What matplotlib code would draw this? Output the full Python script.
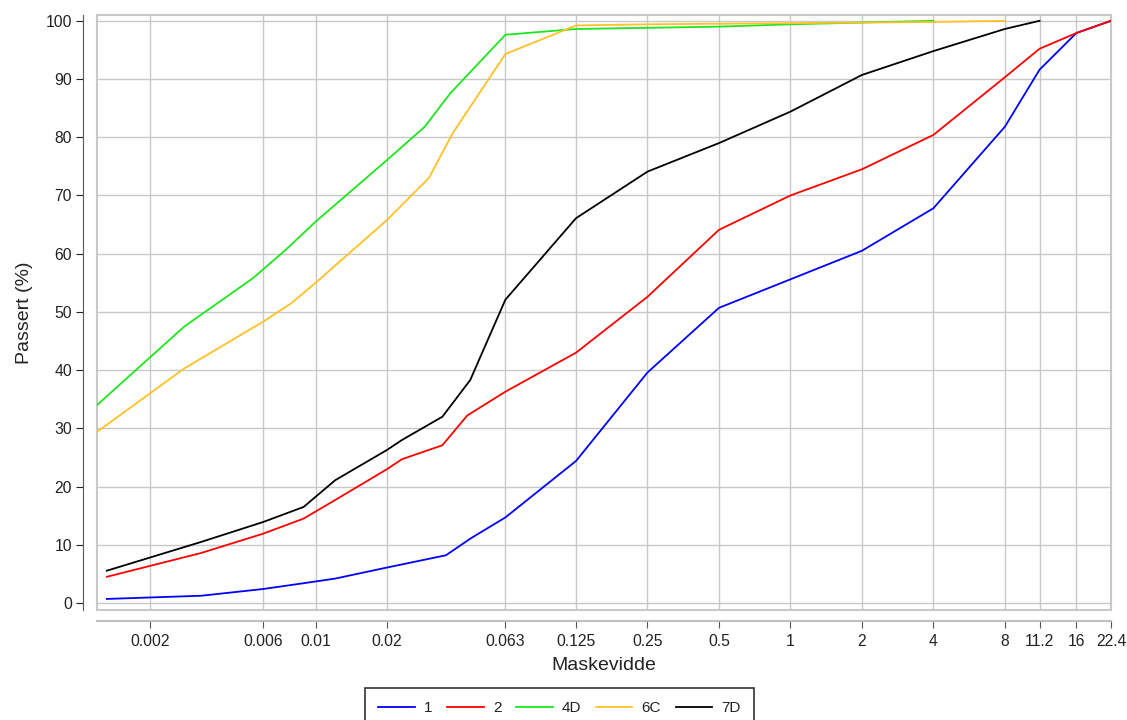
import matplotlib
matplotlib.use('Agg')
import matplotlib.pyplot as plt
import matplotlib.patches as patches

plt.rcParams['font.family'] = ['Liberation Sans', 'DejaVu Sans']

# sieve / hydrometer sizes (mm) and passing (%)
sizes_1 = [0.00132, 0.0033, 0.006, 0.0089, 0.0121, 0.02, 0.0354, 0.045, 0.063,
           0.125, 0.25, 0.5, 1, 2, 4, 8, 11.2, 16, 22.4]
pass_1 = [0.7, 1.25, 2.4, 3.4, 4.2, 6.1, 8.2, 11.1, 14.7,
          24.4, 39.6, 50.7, 55.6, 60.5, 67.8, 81.8, 91.6, 97.9, 100]

sizes_2 = [0.00132, 0.0033, 0.006, 0.0089, 0.0121, 0.02, 0.0231, 0.0342, 0.0435, 0.063,
           0.125, 0.25, 0.5, 1, 2, 4, 8, 11.2, 16, 22.4]
pass_2 = [4.5, 8.6, 11.9, 14.5, 17.7, 23.0, 24.7, 27.1, 32.2, 36.3,
          43.0, 52.6, 64.1, 70.0, 74.5, 80.4, 90.3, 95.2, 97.9, 100]

sizes_4d = [0.0012, 0.0028, 0.00545, 0.0075, 0.01, 0.02, 0.0288, 0.037, 0.063,
            0.125, 0.25, 0.5, 1, 2, 4]
pass_4d = [34.0, 47.5, 55.8, 60.7, 65.5, 76.1, 81.8, 87.6, 97.6,
           98.6, 98.8, 99.0, 99.4, 99.7, 100]

sizes_6c = [0.0012, 0.0028, 0.006, 0.0079, 0.01, 0.02, 0.030, 0.0378, 0.063,
            0.125, 0.25, 0.5, 1, 2, 4, 8]
pass_6c = [29.4, 40.3, 48.3, 51.5, 55.0, 65.8, 73.0, 80.7, 94.3,
           99.2, 99.4, 99.5, 99.6, 99.7, 99.8, 100]

sizes_7d = [0.00132, 0.0033, 0.006, 0.0089, 0.0121, 0.02, 0.0231, 0.0342, 0.0448, 0.063,
            0.125, 0.25, 0.5, 1, 2, 4, 8, 11.2]
pass_7d = [5.55, 10.5, 13.9, 16.5, 21.1, 26.3, 28.0, 32.0, 38.3, 52.1,
           66.1, 74.1, 79.0, 84.4, 90.7, 94.8, 98.6, 100]

tick_vals = [0.002, 0.006, 0.01, 0.02, 0.063, 0.125, 0.25, 0.5, 1, 2, 4, 8, 11.2, 16, 22.4]
tick_labels = ['0.002', '0.006', '0.01', '0.02', '0.063', '0.125', '0.25', '0.5',
               '1', '2', '4', '8', '11.2', '16', '22.4']

series = [
    ('1', sizes_1, pass_1, '#0000ff'),
    ('2', sizes_2, pass_2, '#ff0000'),
    ('4D', sizes_4d, pass_4d, '#1ee61e'),
    ('6C', sizes_6c, pass_6c, '#ffc125'),
    ('7D', sizes_7d, pass_7d, '#000000'),
]

W, H = 1127, 720
fig = plt.figure(figsize=(W / 100, H / 100), dpi=100)
ax = fig.add_axes([97 / W, 1 - 610 / H, (1111 - 97) / W, (610 - 15) / H])

for name, xs, ys, color in series:
    ax.plot(xs, ys, color=color, lw=1.3, label=name, zorder=3)

ax.set_xscale('log')
ax.set_xlim(0.0012, 22.4)
ax.set_ylim(-1.2, 101.0)
ax.set_xticks(tick_vals)
ax.set_xticklabels(tick_labels)
ax.minorticks_off()
ax.set_yticks(range(0, 101, 10))
ax.grid(True, color='#c8c8c8', lw=1.0, zorder=0)

# detached axis lines, light plot frame
for s in ['top', 'right']:
    ax.spines[s].set_visible(False)
ax.spines['left'].set_position(('outward', 10))
ax.spines['left'].set_color('#555555')
ax.spines['bottom'].set_position(('outward', 8))
ax.spines['bottom'].set_color('#c0c0c0')
ax.spines['bottom'].set_linewidth(1.5)
ax.add_patch(patches.Rectangle((0, 0), 1, 1, transform=ax.transAxes, fill=False,
                               edgecolor='#c8c8c8', lw=1.5, clip_on=False, zorder=1))
ax.tick_params(axis='both', labelsize=11.3, colors='#222222', length=5)
ax.tick_params(axis='y', pad=3)
ax.tick_params(axis='x', color='#555555', pad=4)

ax.set_xlabel('Maskevidde', fontsize=14, color='#222222', labelpad=6)
ax.set_ylabel('Passert (%)', fontsize=14, color='#222222', labelpad=9)

leg = fig.legend(loc='upper center', bbox_to_anchor=(559.5 / W, 1 - 688 / H), ncol=5,
                 fontsize=11, frameon=True, fancybox=False, edgecolor='black',
                 handlelength=2.4, handletextpad=0.6, columnspacing=0.95,
                 borderpad=0.85, borderaxespad=0)
leg.get_frame().set_linewidth(1.2)
for t in leg.get_texts():
    t.set_color('#222222')

fig.savefig('out.png', dpi=100)
